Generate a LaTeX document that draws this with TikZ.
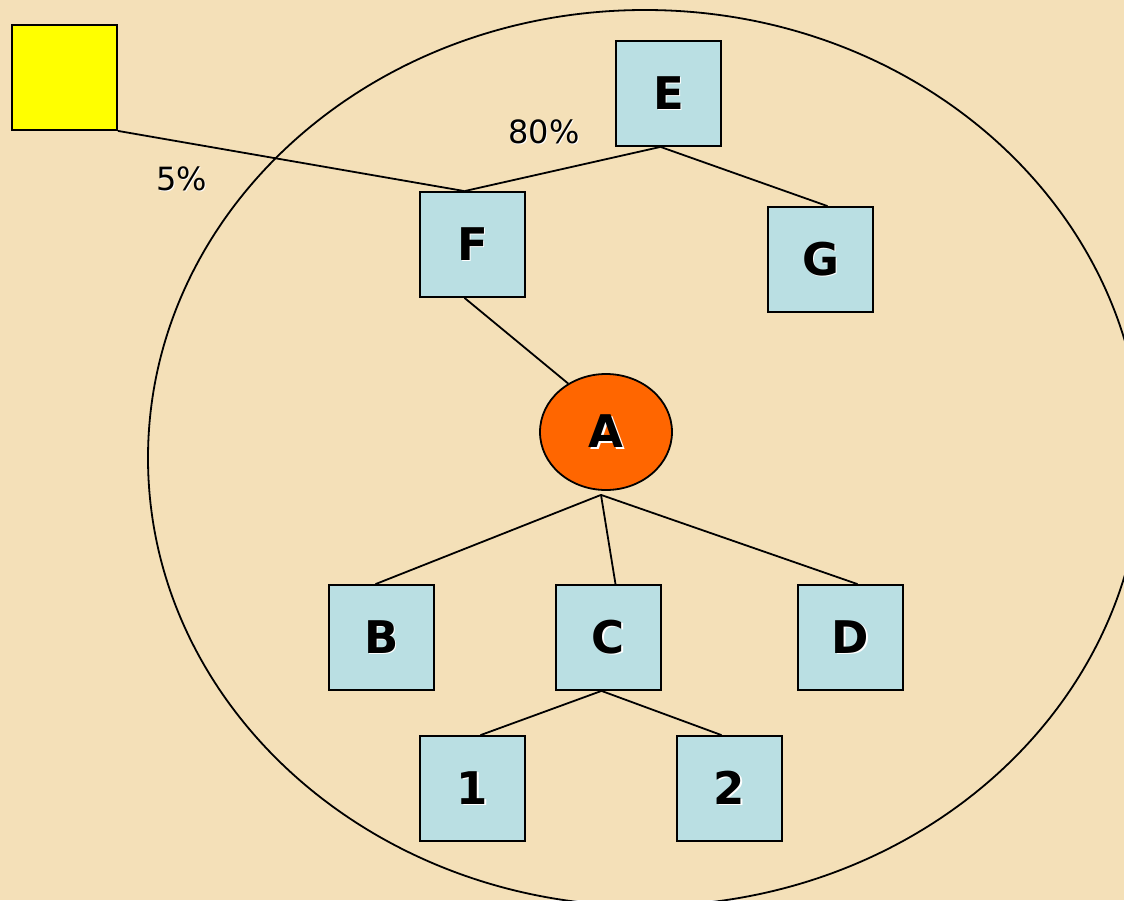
\documentclass[tikz,border=0pt]{standalone}
\usepackage{fontspec}
\setmainfont{DejaVu Sans}
\usetikzlibrary{shapes.geometric,calc}
\definecolor{bgc}{HTML}{F4E0B8}
\definecolor{boxc}{HTML}{BADFE3}
\definecolor{orc}{HTML}{FF6600}
\definecolor{ylc}{HTML}{FFFF00}
\newcommand\shd[2]{\rlap{\kern#1\raisebox{-#1}{\textcolor{white}{#2}}}#2}
\tikzset{
  sq/.style={draw=black, line width=1.8pt, fill=boxc, minimum width=105pt, minimum height=105pt, inner sep=0pt,
    font=\fontsize{45}{50}\selectfont\bfseries},
  conn/.style={draw=black, line width=1.8pt},
  pct/.style={font=\fontsize{32}{36}\selectfont, inner sep=0pt}
}
\begin{document}
\begin{tikzpicture}[x=1pt,y=-1pt]
\useasboundingbox (0,0) rectangle (1124,900);
\fill[bgc] (0,0) rectangle (1124,900);
\clip (0,0) rectangle (1124,900);
\draw[line width=1.8pt] (645,458) ellipse [x radius=497, y radius=448];
\node[sq, fill=ylc] (Y) at (64.5,77.5) {};
\node[sq] (E) at (668.5,93.5) {\shd{1.5pt}{E}};
\node[sq] (F) at (472.5,244.5) {\shd{1.5pt}{F}};
\node[sq] (G) at (820.5,259.5) {\shd{1.5pt}{G}};
\node[ellipse, draw=black, line width=1.8pt, fill=orc, minimum width=132pt, minimum height=116pt, inner sep=0pt,
  font=\fontsize{45}{50}\selectfont\bfseries] (A) at (606,432) {\shd{1.5pt}{A}};
\node[sq] (B) at (381.5,637.5) {\shd{1.5pt}{B}};
\node[sq] (C) at (608.5,637.5) {\shd{1.5pt}{C}};
\node[sq] (D) at (850.5,637.5) {\shd{1.5pt}{D}};
\node[sq] (N1) at (472.5,788.5) {\shd{1.5pt}{1}};
\node[sq] (N2) at (729.5,788.5) {\shd{1.5pt}{2}};
\node[pct] (p80) at (544,132) {\shd{1pt}{80\%}};
\node[pct] (p5) at (182,179) {\shd{1pt}{5\%}};
\coordinate (Ft) at ($(F.north)+(-8,0)$);
\coordinate (Et) at ($(E.south)+(-8,0)$);
\coordinate (Fb) at ($(F.south)+(-8,0)$);
\coordinate (Ab) at ($(A.south)+(-5,4)$);
\coordinate (Cb) at ($(C.south)+(-7,0)$);
\draw[conn] (Y.south east) -- (Ft);
\draw[conn] (Et) -- (Ft);
\draw[conn] (Et) -- ($(G.north)+(7,0)$);
\draw[conn] (Fb) -- (A.128);
\draw[conn] (Ab) -- ($(B.north)+(-6,0)$);
\draw[conn] (Ab) -- ($(C.north)+(7,0)$);
\draw[conn] (Ab) -- ($(D.north)+(7,0)$);
\draw[conn] (Cb) -- ($(N1.north)+(8,0)$);
\draw[conn] (Cb) -- ($(N2.north)+(-8,0)$);
\end{tikzpicture}
\end{document}
